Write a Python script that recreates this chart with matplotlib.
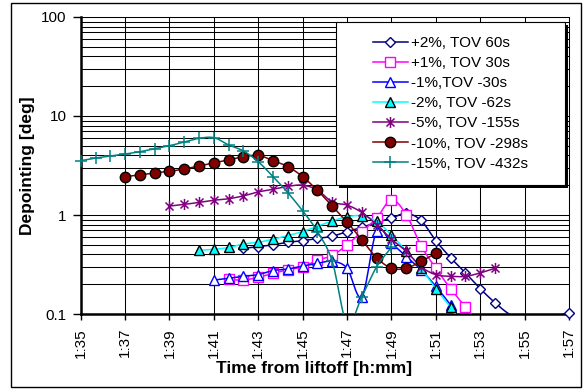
import numpy as np
import matplotlib
import matplotlib.pyplot as plt
from matplotlib.lines import Line2D
from matplotlib.patches import Rectangle
from matplotlib.path import Path

plt.rcParams['font.family'] = ['Liberation Sans', 'DejaVu Sans']

# sample times (h:mm:ss from liftoff), one sample every 40 s
sample_times = ['1:35:00', '1:35:40', '1:36:20', '1:37:00', '1:37:40', '1:38:20',
                '1:39:00', '1:39:40', '1:40:20', '1:41:00', '1:41:40', '1:42:20',
                '1:43:00', '1:43:40', '1:44:20', '1:45:00', '1:45:40', '1:46:20',
                '1:47:00', '1:47:40', '1:48:20', '1:49:00', '1:49:40', '1:50:20',
                '1:51:00', '1:51:40', '1:52:20', '1:53:00', '1:53:40', '1:54:20',
                '1:55:00', '1:55:40', '1:56:20', '1:57:00']

# depointing [deg] per case, each starting at the given sample index
dep_p2 = [0.46, 0.48, 0.50, 0.53, 0.55, 0.58, 0.61, 0.68, 0.75, 0.84, 0.93, 1.04,
          0.88, 0.55, 0.37, 0.26, 0.18, 0.13, 0.099, 0.086, 0.084, 0.094, 0.103]
dep_p1 = [0.224, 0.22, 0.235, 0.257, 0.28, 0.30, 0.35, 0.39, 0.50, 0.68, 0.93, 1.42,
          1.01, 0.49, 0.29, 0.18, 0.118, 0.075]
dep_m1 = [0.22, 0.23, 0.24, 0.25, 0.275, 0.285, 0.305, 0.325, 0.34, 0.29, 0.15, 0.69,
          0.52, 0.38, 0.28, 0.19, 0.123, 0.075]
dep_m2 = [0.44, 0.45, 0.47, 0.51, 0.53, 0.57, 0.62, 0.68, 0.77, 0.87, 0.96, 0.98,
          0.86, 0.63, 0.43, 0.29, 0.18, 0.117, 0.07]
dep_m5 = [1.23, 1.28, 1.34, 1.41, 1.46, 1.56, 1.71, 1.82, 1.95, 2.0, 1.79, 1.35,
          1.26, 1.06, 0.8, 0.57, 0.43, 0.30, 0.25, 0.24, 0.24, 0.26, 0.29]
dep_m10 = [2.44, 2.54, 2.66, 2.76, 2.92, 3.13, 3.35, 3.6, 3.88, 4.0, 3.54, 3.08,
           2.44, 1.77, 1.23, 0.85, 0.56, 0.37, 0.29, 0.29, 0.34, 0.41]
dep_m15 = [3.54, 3.76, 3.94, 4.13, 4.36, 4.67, 5.01, 5.46, 5.95, 6.04, 5.1, 4.43,
           3.45, 2.44, 1.68, 1.1, 0.68, 0.34, 0.08, 0.15, 0.30, 0.47]
start_idx = [11, 10, 9, 8, 6, 3, 0]

case_labels = ['+2%, TOV 60s', '+1%, TOV 30s', '-1%,TOV -30s', '-2%, TOV -62s',
               '-5%, TOV -155s', '-10%, TOV -298s', '-15%, TOV -432s']
xtick_labels = ['1:35', '1:37', '1:39', '1:41', '1:43', '1:45', '1:47', '1:49',
                '1:51', '1:53', '1:55', '1:57']
ytick_vals = [0.1, 1, 10, 100]
ytick_labels = ['0.1', '1', '10', '100']


def to_min(s):
    h, m, sec = (int(p) for p in s.split(':'))
    return h * 60 + m + sec / 60.0


def smooth(x, y, n=24):
    # cubic bezier through the points, control points a la Excel smoothed lines
    pts = np.column_stack([x, y])
    out = []
    for i in range(len(pts) - 1):
        p0 = pts[max(i - 1, 0)]
        p1 = pts[i]
        p2 = pts[i + 1]
        p3 = pts[min(i + 2, len(pts) - 1)]
        c1 = p1 + (p2 - p0) / 6.0
        c2 = p2 - (p3 - p1) / 6.0
        s = np.linspace(0, 1, n)[:, None]
        seg = (1 - s)**3 * p1 + 3 * (1 - s)**2 * s * c1 + 3 * (1 - s) * s**2 * c2 + s**3 * p2
        out.append(seg if i == 0 else seg[1:])
    out = np.vstack(out)
    return out[:, 0], out[:, 1]


t_all = np.array([to_min(s) for s in sample_times])
xticks = [to_min(s + ':00') for s in xtick_labels]

# asterisk marker: vertical bar plus an X
star = Path([(0, -1), (0, 1), (-0.72, -0.72), (0.72, 0.72), (-0.72, 0.72), (0.72, -0.72)],
            [Path.MOVETO, Path.LINETO] * 3)

styles = [
    dict(color='#000080', marker='D', ms=5, mfc='white', mec='#000080', mew=1.0),
    dict(color='#FF00FF', marker='s', ms=6.5, mfc='white', mec='#FF00FF', mew=1.0),
    dict(color='#0000FF', marker='^', ms=7, mfc='white', mec='#0000FF', mew=1.0),
    dict(color='#00FFFF', marker='^', ms=7, mfc='#00FFFF', mec='black', mew=1.0),
    dict(color='#800080', marker=star, ms=8, mfc='#800080', mec='#800080', mew=1.1),
    dict(color='#800000', marker='o', ms=7.5, mfc='#800000', mec='black', mew=1.0),
    dict(color='#008080', marker='+', ms=8, mfc='#008080', mec='#008080', mew=1.1),
]
all_dep = [dep_p2, dep_p1, dep_m1, dep_m2, dep_m5, dep_m10, dep_m15]

fig = plt.figure(figsize=(5.84, 3.89), dpi=100)
ax = fig.add_axes([0.1382, 0.1928, 0.8361, 0.7635])
ymin, ymax = 0.1, 100

handles = []
for vals, k0, st, lab in zip(all_dep, start_idx, styles, case_labels):
    v = np.array(vals)
    t = t_all[k0:k0 + len(v)]
    sx, sy = smooth(t, np.log10(v))
    ax.plot(sx, 10**sy, color=st['color'], lw=1.1, zorder=3)
    # points below the axis minimum get no marker
    shown = v >= ymin
    ax.plot(t[shown], v[shown], ls='none', marker=st['marker'], ms=st['ms'],
            mfc=st['mfc'], mec=st['mec'], mew=st['mew'], zorder=3, clip_on=False)
    handles.append(Line2D([], [], lw=1.1, label=lab, **st))

ax.set_yscale('log')
ax.set_ylim(ymin, ymax)
ax.set_xlim(t_all[0], t_all[-1])
ax.set_xticks(xticks)
ax.set_xticklabels(xtick_labels, rotation=90, fontsize=11)
ax.set_yticks(ytick_vals)
ax.set_yticklabels(ytick_labels, fontsize=11)
ax.yaxis.set_minor_formatter(matplotlib.ticker.NullFormatter())
ax.tick_params(axis='y', which='major', direction='out', length=6, width=1, pad=4)
ax.tick_params(axis='y', which='minor', length=0)
ax.tick_params(axis='x', direction='out', length=4, width=1, pad=6)

ax.grid(True, which='both', axis='y', color='black', lw=0.75)
ax.grid(True, which='major', axis='x', color='black', lw=0.75)
ax.set_axisbelow(True)
for side in ['left', 'bottom']:
    ax.spines[side].set_linewidth(1.8)
for side in ['top', 'right']:
    ax.spines[side].set_linewidth(0.75)

ax.set_xlabel('Time from liftoff [h:mm]', fontsize=12.5, fontweight='bold')
ax.xaxis.set_label_coords(0.478, -0.158)
ax.set_ylabel('Depointing [deg]', fontsize=12.5, fontweight='bold')
ax.yaxis.set_label_coords(-0.094, 0.5)

# legend box with a hard black shadow
box = (336, 21.7, 565, 185)
W, H = 584.0, 389.0
fig.patches.append(Rectangle((box[0] / W + 3 / W, 1 - box[3] / H - 3 / H),
                             (box[2] - box[0]) / W, (box[3] - box[1]) / H,
                             transform=fig.transFigure, facecolor='black',
                             edgecolor='none', zorder=3))
fig.patches.append(Rectangle((box[0] / W, 1 - box[3] / H),
                             (box[2] - box[0]) / W, (box[3] - box[1]) / H,
                             transform=fig.transFigure, facecolor='white',
                             edgecolor='black', lw=0.8, zorder=4))
leg = fig.legend(handles=handles, loc='center',
                 bbox_to_anchor=((box[0] + box[2]) / 2 / W, 1 - (box[1] + box[3]) / 2 / H),
                 frameon=False, fontsize=11, numpoints=1, handlelength=2.35,
                 handletextpad=0.2, labelspacing=0.4, borderpad=0)
leg.set_zorder(5)

# chart area border
fig.patches.append(Rectangle((11 / W, 1 - 387 / H), 570 / W, 384 / H,
                             transform=fig.transFigure, facecolor='none',
                             edgecolor='black', lw=1.0, zorder=6))

fig.savefig('out.png', dpi=100)
